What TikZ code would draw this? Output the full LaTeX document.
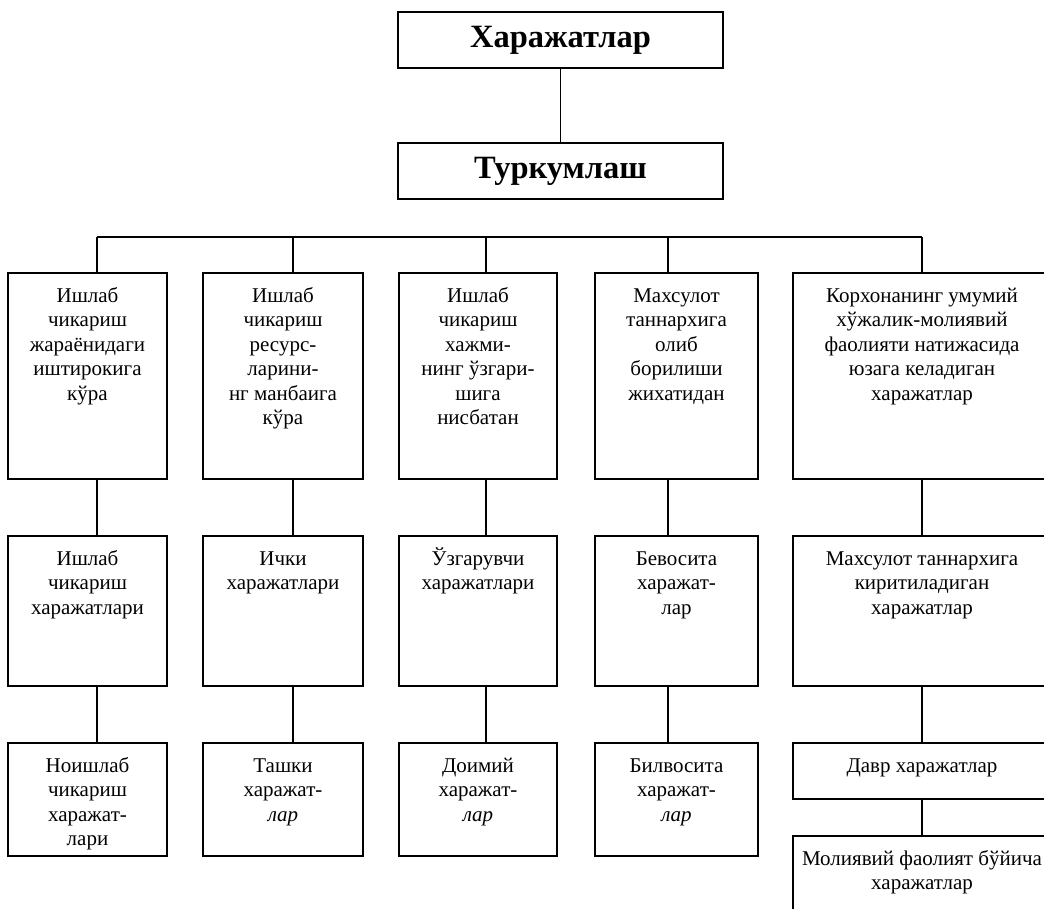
\documentclass[tikz,border=0pt]{standalone}
\usepackage{fontspec}
\setmainfont{Liberation Serif}

\newcommand{\boxtext}[3]{\parbox[t][#2][t]{#1}{\centering\rule{0pt}{18pt}#3}}
\tikzset{
  head/.style={draw, line width=2pt, anchor=north, minimum width=325pt, minimum height=56pt, inner sep=0pt, font=\bfseries\fontsize{32.5}{38}\selectfont},
  cell/.style={draw, line width=2pt, anchor=north, inner xsep=0pt, inner ysep=11pt, font=\fontsize{21}{24.5}\selectfont},
  wire/.style={line width=1.8pt}
}

\begin{document}
\begin{tikzpicture}[x=1pt, y=-1pt]
\useasboundingbox (0,0) rectangle (1044,909);
\clip (0,0) rectangle (1044,909);

\node[head] (cost) at (560.5,11) {Харажатлар};
\node[head] (class) at (560.5,142) {Туркумлаш};
\draw[wire] (cost.south) -- (class.north);

% first row
\node[cell] (a1) at (87.5,272) {\boxtext{159pt}{184pt}{Ишлаб\\ чикариш\\ жараёнидаги\\ иштирокига\\ кўра}};
\node[cell] (a2) at (283,272) {\boxtext{160pt}{184pt}{Ишлаб\\ чикариш\\ ресурс-\\ ларини-\\ нг манбаига\\ кўра}};
\node[cell] (a3) at (478,272) {\boxtext{158pt}{184pt}{Ишлаб\\ чикариш\\ хажми-\\ нинг ўзгари-\\ шига\\ нисбатан}};
\node[cell] (a4) at (676.5,272) {\boxtext{163pt}{184pt}{Махсулот\\ таннархига\\ олиб\\ борилиши\\ жихатидан}};
\node[cell] (a5) at (922,272) {\boxtext{258pt}{184pt}{Корхонанинг умумий\\ хўжалик-молиявий\\ фаолияти натижасида\\ юзага келадиган\\ харажатлар}};

% second row
\node[cell] (b1) at (87.5,535) {\boxtext{159pt}{128pt}{Ишлаб\\ чикариш\\ харажатлари}};
\node[cell] (b2) at (283,535) {\boxtext{160pt}{128pt}{Ички\\ харажатлари}};
\node[cell] (b3) at (478,535) {\boxtext{158pt}{128pt}{Ўзгарувчи\\ харажатлари}};
\node[cell] (b4) at (676.5,535) {\boxtext{163pt}{128pt}{Бевосита\\ харажат-\\ лар}};
\node[cell] (b5) at (922,535) {\boxtext{258pt}{128pt}{Махсулот таннархига\\ киритиладиган\\ харажатлар}};

% third row
\node[cell] (c1) at (87.5,742) {\boxtext{159pt}{91pt}{Ноишлаб\\ чикариш\\ харажат-\\ лари}};
\node[cell] (c2) at (283,742) {\boxtext{160pt}{91pt}{Ташки\\ харажат-\\ \textit{лар}}};
\node[cell] (c3) at (478,742) {\boxtext{158pt}{91pt}{Доимий\\ харажат-\\ \textit{лар}}};
\node[cell] (c4) at (676.5,742) {\boxtext{163pt}{91pt}{Билвосита\\ харажат-\\ \textit{лар}}};
\node[cell] (c5) at (922,742) {\boxtext{258pt}{34pt}{Давр харажатлар}};
\node[cell] (fin) at (922,835) {\boxtext{258pt}{80pt}{Молиявий фаолият бўйича\\ харажатлар}};

\coordinate (d1) at (97,237);
\coordinate (d2) at (293,237);
\coordinate (d3) at (486,237);
\coordinate (d4) at (668,237);
\coordinate (d5) at (922,237);
\draw[wire] (d1) -- (d5);
\foreach \i in {1,...,5}
  \draw[wire] (d\i) -- (d\i |- a\i.north) (d\i |- a\i.south) -- (d\i |- b\i.north) (d\i |- b\i.south) -- (d\i |- c\i.north);
\draw[wire] (c5.south) -- (fin.north);
\end{tikzpicture}
\end{document}
